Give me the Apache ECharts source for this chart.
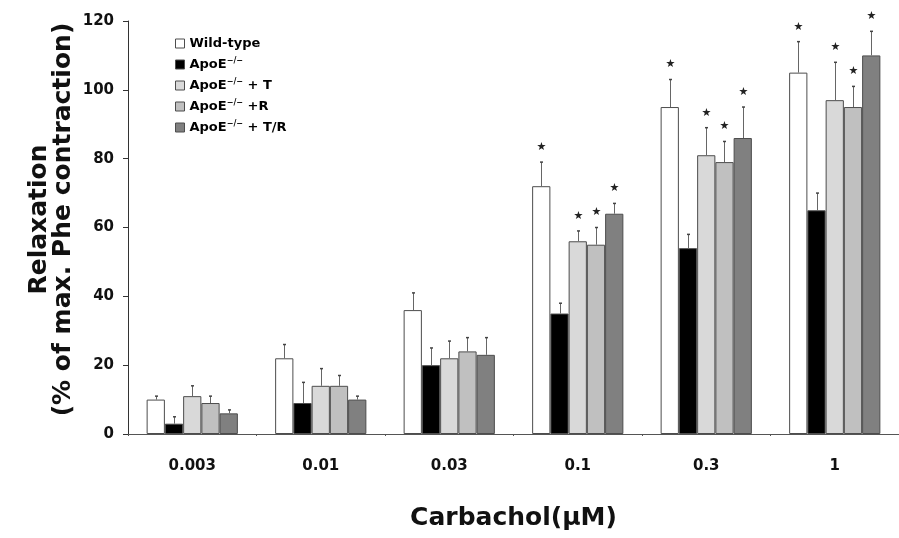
<!DOCTYPE html>
<html>
<head>
<meta charset="utf-8">
<script src="https://cdn.jsdelivr.net/npm/echarts@6/dist/echarts.min.js"></script>
<style>
  html, body { margin: 0; padding: 0; background: #fff; }
  #main { width: 899px; height: 538px; }
</style>
</head>
<body>
<div id="main"></div>
<script>
  // doses (x categories)
  var categories = ['0.003', '0.01', '0.03', '0.1', '0.3', '1']
  var seriesNames = ['Wild-type', 'ApoE-/-', 'ApoE-/- + T', 'ApoE-/- +R', 'ApoE-/- + T/R']

  // mean relaxation, %
  var wildType = [10, 22, 36, 72, 95, 105]
  var apoe = [3, 9, 20, 35, 54, 65]
  var apoeT = [11, 14, 22, 56, 81, 97]
  var apoeR = [9, 14, 24, 55, 79, 95]
  var apoeTR = [6, 10, 23, 64, 86, 110]

  // upper error bars
  var wildTypeErr = [1, 4, 5, 7, 8, 9]
  var apoeErr = [2, 6, 5, 3, 4, 5]
  var apoeTErr = [3, 5, 5, 3, 8, 11]
  var apoeRErr = [2, 3, 4, 5, 6, 6]
  var apoeTRErr = [1, 1, 5, 3, 9, 7]

  // significance stars (1 = *)
  var wildTypeStar = [0, 0, 0, 1, 1, 1]
  var apoeStar = [0, 0, 0, 0, 0, 0]
  var apoeTStar = [0, 0, 0, 1, 1, 1]
  var apoeRStar = [0, 0, 0, 1, 1, 1]
  var apoeTRStar = [0, 0, 0, 1, 1, 1]

  var yTicks = [0, 20, 40, 60, 80, 100, 120]

  var values = [wildType, apoe, apoeT, apoeR, apoeTR]
  var errors = [wildTypeErr, apoeErr, apoeTErr, apoeRErr, apoeTRErr]
  var stars = [wildTypeStar, apoeStar, apoeTStar, apoeRStar, apoeTRStar]
  var colors = ['#ffffff', '#000000', '#d9d9d9', '#c0c0c0', '#808080']

  var FONT = "'DejaVu Sans', 'Liberation Sans', Arial, sans-serif"
  var BAR_RATIO = 0.142

  var series = []
  seriesNames.forEach(function (name, k) {
    series.push({
      name: name,
      type: 'bar',
      data: values[k],
      barWidth: (BAR_RATIO * 100) + '%',
      barGap: '0%',
      itemStyle: {
        color: colors[k],
        borderColor: '#4d4d4d',
        borderWidth: 1
      },
      emphasis: { disabled: true }
    })
  })

  // error bars + stars
  seriesNames.forEach(function (name, k) {
    var data = []
    for (var i = 0; i < categories.length; i++) {
      data.push([i, values[k][i], errors[k][i], stars[k][i]])
    }
    series.push({
      type: 'custom',
      z: 5,
      silent: true,
      data: data,
      encode: { x: 0, y: 1 },
      renderItem: function (params, api) {
        var band = api.size([1, 0])[0]
        var bw = band * BAR_RATIO
        var base = api.coord([api.value(0), api.value(1)])
        var top = api.coord([api.value(0), api.value(1) + api.value(2)])
        var x = Math.round(base[0] + (k - 2) * bw) + 0.5
        var children = [
          {
            type: 'line',
            shape: { x1: x, y1: base[1], x2: x, y2: top[1] },
            style: { stroke: '#666', lineWidth: 1 }
          },
          {
            type: 'line',
            shape: { x1: x - 1.5, y1: top[1], x2: x + 1.5, y2: top[1] },
            style: { stroke: '#444', lineWidth: 1.5 }
          }
        ]
        if (api.value(3)) {
          children.push({
            type: 'text',
            style: {
              text: '★',
              x: x,
              y: top[1] - 15,
              align: 'center',
              verticalAlign: 'middle',
              fontSize: 11,
              fill: '#222',
              fontFamily: FONT
            }
          })
        }
        return { type: 'group', children: children }
      }
    })
  })

  var chart = echarts.init(document.getElementById('main'), null, { renderer: 'canvas' })
  var option = {
    animation: false,
    backgroundColor: '#fff',
    textStyle: { fontFamily: FONT },
    grid: { left: 128, top: 21, width: 785, height: 413 },
    legend: {
      data: seriesNames,
      orient: 'vertical',
      left: 170,
      top: 32,
      itemWidth: 9,
      itemHeight: 9,
      itemGap: 6.5,
      icon: 'rect',
      selectedMode: false,
      itemStyle: { borderColor: '#4d4d4d', borderWidth: 1 },
      formatter: function (name) {
        return name.replace('-/-', '{sup|−/−}')
      },
      textStyle: {
        fontFamily: FONT,
        fontWeight: 'bold',
        fontSize: 13,
        color: '#000',
        rich: {
          sup: {
            fontFamily: FONT,
            fontWeight: 'bold',
            fontSize: 8,
            color: '#000',
            padding: [0, 0, 8, 0]
          }
        }
      }
    },
    xAxis: {
      type: 'category',
      data: categories,
      name: 'Carbachol(μM)',
      nameLocation: 'middle',
      nameGap: 72,
      nameMoveOverlap: false,
      nameTextStyle: { fontFamily: FONT, fontWeight: 'bold', fontSize: 25, color: '#111' },
      axisLine: { lineStyle: { color: '#555', width: 1 } },
      axisTick: { show: true, length: 2, lineStyle: { color: '#555' } },
      axisLabel: { margin: 25, fontFamily: FONT, fontWeight: 'bold', fontSize: 15, color: '#111' },
      splitLine: { show: false }
    },
    yAxis: {
      type: 'value',
      min: yTicks[0],
      max: yTicks[yTicks.length - 1],
      interval: 20,
      name: 'Relaxation\n(% of max. Phe contraction)',
      nameLocation: 'middle',
      nameGap: 53,
      nameMoveOverlap: false,
      nameTextStyle: { fontFamily: FONT, fontWeight: 'bold', fontSize: 25, lineHeight: 24, color: '#111', align: 'center', padding: [0, 0, 0, 16] },
      axisLine: { show: true, lineStyle: { color: '#333', width: 1 } },
      axisTick: { show: true, length: 5, lineStyle: { color: '#333' } },
      axisLabel: { margin: 14, fontFamily: FONT, fontWeight: 'bold', fontSize: 15, color: '#111' },
      splitLine: { show: false }
    },
    series: series
  }
  chart.setOption(option)
</script>
</body>
</html>
